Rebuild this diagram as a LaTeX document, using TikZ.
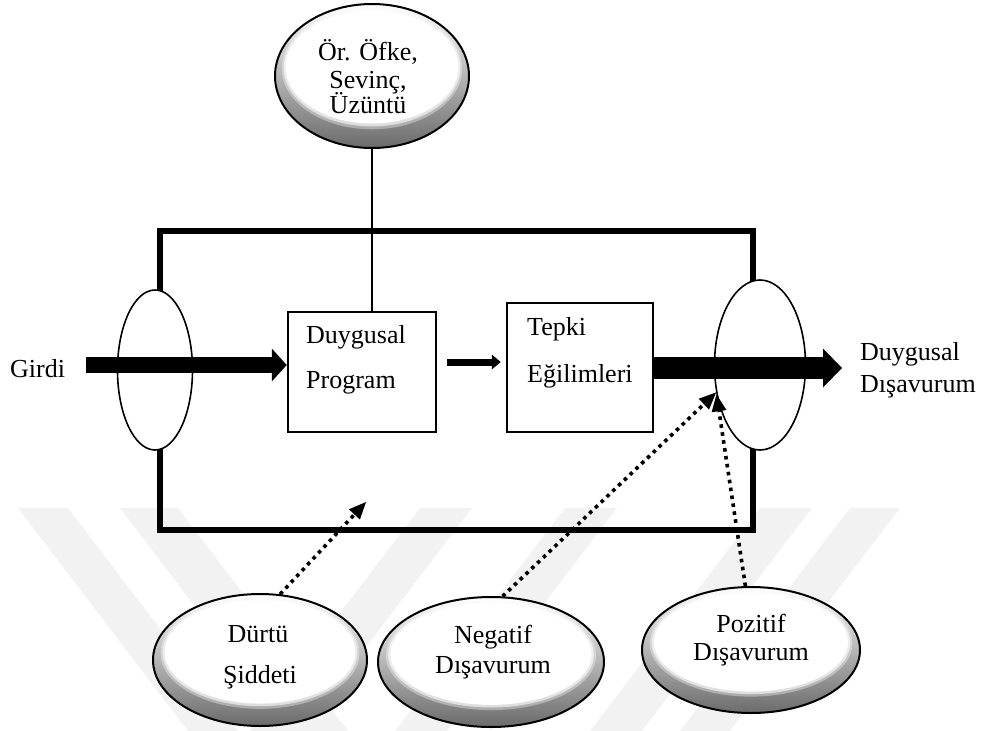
\documentclass[tikz,border=0pt]{standalone}
\usepackage{fontspec}
\setmainfont{Liberation Serif}
\usetikzlibrary{arrows.meta,shapes.geometric,calc}

% shaded "button" ellipse: grey rim with a white face shifted upwards
\newcommand\ballshade[4]{%
  \shade[top color=white, bottom color=black!58] (#1,#2) ellipse [x radius=#3, y radius=#4];
  \fill[white, opacity=0.35] (#1,{#2-0.10*#4}) ellipse [x radius={0.93*#3}, y radius={0.84*#4}];
  \fill[white, opacity=0.6] (#1,{#2-0.11*#4}) ellipse [x radius={0.91*#3}, y radius={0.81*#4}];
  \fill[white] (#1,{#2-0.12*#4}) ellipse [x radius={0.89*#3}, y radius={0.78*#4}];
}

\begin{document}
\begin{tikzpicture}[x=1pt, y=-1pt,
  txt/.style={inner sep=0pt, font=\fontsize{26}{30}\selectfont},
  lineL/.style={txt, anchor=base west},
  lineC/.style={txt, anchor=base},
  frame/.style={line width=6pt},
  boxnode/.style={draw, line width=2.5pt, rectangle, inner sep=0pt},
  portring/.style={draw, fill=white, ellipse, line width=1.6pt, inner sep=0pt},
  ballrim/.style={draw, ellipse, line width=2pt, inner sep=0pt},
  link/.style={line width=2.2pt},
  heavyarrow/.style={line width=#1},
  dotarrow/.style={line width=3.6pt, dash pattern=on 3.6pt off 4.4pt,
    -{Triangle[length=17pt 0 0, width=15pt 0 0, line width=0pt 0 0]}},
  band/.style={fill=black!5, draw=none}
]
\useasboundingbox (0,0) rectangle (983,731);

% background bands
\fill[band] (18,508) -- (68,508) -- (238,731) -- (188,731) -- cycle;
\fill[band] (120,508) -- (178,508) -- (348,731) -- (290,731) -- cycle;
\fill[band] (420,508) -- (472,508) -- (302,731) -- (250,731) -- cycle;
\fill[band] (565,508) -- (617,508) -- (447,731) -- (395,731) -- cycle;
\fill[band] (760,508) -- (812,508) -- (642,731) -- (590,731) -- cycle;
\fill[band] (850,508) -- (900,508) -- (730,731) -- (680,731) -- cycle;

% system frame
\draw[frame] (160,231) rectangle (753,530);

% input / output ports
\node[portring, minimum width=75pt, minimum height=160pt] (inR) at (155,370) {};
\node[portring, minimum width=91pt, minimum height=170pt] (outR) at (760,365) {};

% processing boxes
\node[boxnode, minimum width=148pt, minimum height=120pt] (prog) at (362,372) {};
\node[boxnode, minimum width=146pt, minimum height=129pt] (tepki) at (580,367.5) {};

\node[lineL] (p1) at (306,343) {Duygusal};
\node[lineL] (p2) at (306,388) {Program};
\node[lineL] (t1) at (527,335) {Tepki};
\node[lineL] (t2) at (527,382) {Eğilimleri};

% emotion examples
\ballshade{372}{76}{97}{72}
\node[ballrim, minimum width=194pt, minimum height=144pt] (emo) at (372,76) {};
\node[lineC] (e1) at (368,60) {Ör. Öfke,};
\node[lineC] (e2) at (368,88) {Sevinç,};
\node[lineC] (e3) at (368,113) {Üzüntü};
\draw[link] (emo.south) -- (emo.south |- prog.north);

% input and output arrows
\node[lineL] (girdi) at (10,377) {Girdi};
\coordinate (gin) at (86,365);
\draw[heavyarrow=16pt, -{Triangle[length=15pt 0 0, width=33pt 0 0, line width=0pt 0 0]}]
  (gin) -- (prog.west |- gin);
\coordinate (mid) at (0,362);
\draw[heavyarrow=7pt, -{Triangle[length=9pt 0 0, width=15pt 0 0, line width=0pt 0 0]}]
  ([xshift=10]prog.east |- mid) -- ([xshift=-5]tepki.west |- mid);
\node[lineL] (o1) at (860,360) {Duygusal};
\node[lineL] (o2) at (860,392) {Dışavurum};
\coordinate (otip) at (842,368);
\draw[heavyarrow=22pt, -{Triangle[length=19pt 0 0, width=39pt 0 0, line width=0pt 0 0]}]
  (tepki.east |- otip) -- (otip);

% modulating factors
\ballshade{260}{660}{107}{66}
\node[ballrim, minimum width=214pt, minimum height=132pt] (dball) at (260,660) {};
\node[lineC] (d1) at (258,642) {Dürtü};
\node[lineC] (d2) at (260,683) {Şiddeti};

\ballshade{491}{662}{113}{65}
\node[ballrim, minimum width=226pt, minimum height=130pt] (nball) at (491,662) {};
\node[lineC] (n1) at (493,643) {Negatif};
\node[lineC] (n2) at (493,673) {Dışavurum};

\ballshade{751}{650}{109}{63}
\node[ballrim, minimum width=218pt, minimum height=126pt] (pball) at (751,650) {};
\node[lineC] (q1) at (751,632) {Pozitif};
\node[lineC] (q2) at (751,660) {Dışavurum};

% dotted influence arrows
\coordinate (dtip) at (366,502);
\draw[dotarrow] (dball.73) -- (dtip);
\draw[dotarrow] (nball.80) -- (outR.212);
\draw[dotarrow] (pball.95) -- (outR.214);
\end{tikzpicture}
\end{document}
